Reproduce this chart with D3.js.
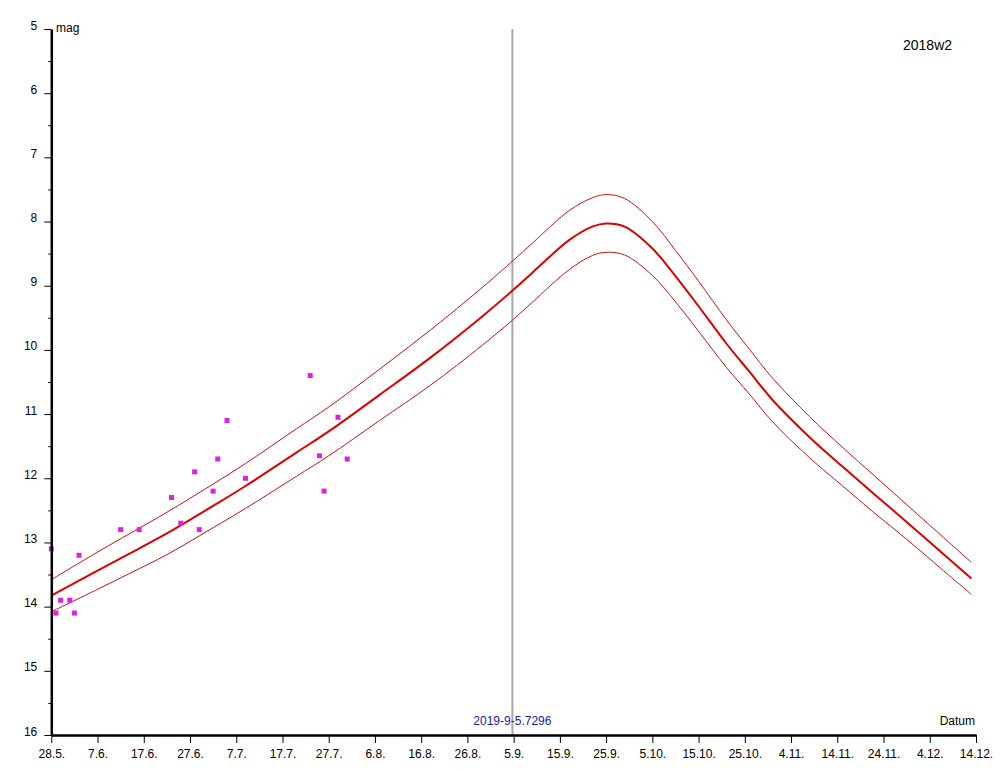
<!DOCTYPE html>
<html>
<head>
<meta charset="utf-8">
<script src="https://cdn.jsdelivr.net/npm/d3@7"></script>
<style>
  body { margin: 0; background: #fff; }
  text { font-family: "Liberation Sans", Arial, sans-serif; }
</style>
</head>
<body>
<script>
// light curve of comet 2018w2
const curveDates = [
  "2019-05-28", "2019-06-07", "2019-06-14", "2019-06-22", "2019-07-02",
  "2019-07-09", "2019-07-20", "2019-07-27", "2019-08-07", "2019-08-18",
  "2019-08-29", "2019-09-05", "2019-09-09", "2019-09-17", "2019-09-22",
  "2019-09-25", "2019-09-29", "2019-10-05", "2019-10-10", "2019-10-15",
  "2019-10-21", "2019-10-26", "2019-10-31", "2019-11-08", "2019-11-15",
  "2019-11-22", "2019-11-29", "2019-12-06", "2019-12-13",
];
const curveMag = [
  13.83, 13.44, 13.17, 12.86, 12.43, 12.12, 11.60, 11.27, 10.70, 10.12,
  9.49, 9.06, 8.80, 8.29, 8.08, 8.03, 8.08, 8.42, 8.85, 9.32,
  9.90, 10.34, 10.78, 11.36, 11.81, 12.25, 12.68, 13.12, 13.56,
];
const curveUpper = [
  13.58, 13.15, 12.86, 12.53, 12.09, 11.77, 11.23, 10.89, 10.30, 9.69,
  9.04, 8.60, 8.34, 7.83, 7.63, 7.58, 7.64, 8.00, 8.45, 8.93,
  9.53, 9.99, 10.44, 11.04, 11.51, 11.96, 12.41, 12.86, 13.31,
];
const curveLower = [
  14.08, 13.73, 13.48, 13.19, 12.77, 12.47, 11.97, 11.65, 11.10, 10.55,
  9.94, 9.52, 9.26, 8.75, 8.53, 8.48, 8.52, 8.84, 9.25, 9.71,
  10.27, 10.69, 11.12, 11.68, 12.11, 12.54, 12.95, 13.38, 13.81,
];

// observations (magenta squares)
const obsDates = [
  "2019-05-28", "2019-05-29", "2019-05-30", "2019-06-01", "2019-06-02",
  "2019-06-03", "2019-06-12", "2019-06-16", "2019-06-23", "2019-06-25",
  "2019-06-28", "2019-06-29", "2019-07-02", "2019-07-03", "2019-07-05",
  "2019-07-09", "2019-07-23", "2019-07-25", "2019-07-26", "2019-07-29",
  "2019-07-31",
];
const obsMag = [
  13.1, 14.1, 13.9, 13.9, 14.1, 13.2, 12.8, 12.8, 12.3, 12.7,
  11.9, 12.8, 12.2, 11.7, 11.1, 12.0, 10.4, 11.65, 12.2, 11.05,
  11.7,
];

const xTickDates = [
  "2019-05-28", "2019-06-07", "2019-06-17", "2019-06-27", "2019-07-07",
  "2019-07-17", "2019-07-27", "2019-08-06", "2019-08-16", "2019-08-26",
  "2019-09-05", "2019-09-15", "2019-09-25", "2019-10-05", "2019-10-15",
  "2019-10-25", "2019-11-04", "2019-11-14", "2019-11-24", "2019-12-04",
  "2019-12-14",
];
const yTicks = [5, 6, 7, 8, 9, 10, 11, 12, 13, 14, 15, 16];
const yMinorTicks = [5.5, 6.5, 7.5, 8.5, 9.5, 10.5, 11.5, 12.5, 13.5, 14.5, 15.5];

const markerDate = "2019-09-04T17:30:00Z";
const markerLabel = "2019-9-5.7296";
const cometName = "2018w2";

const width = 1000;
const height = 771;
const axisLeftX = 51.3;
const axisRightX = 976;
const axisTopY = 29;
const axisBottomY = 735;

const parse = (s) => new Date(s.length === 10 ? s + "T00:00:00Z" : s);

const svg = d3.select("body")
  .append("svg")
  .attr("width", width)
  .attr("height", height);

const x = d3.scaleUtc()
  .domain([parse("2019-05-28"), parse("2019-12-14")])
  .range([axisLeftX, axisRightX]);

const y = d3.scaleLinear()
  .domain([5, 16])
  .range([axisTopY, axisBottomY]);

// vertical marker line
svg.append("line")
  .attr("x1", x(parse(markerDate)))
  .attr("x2", x(parse(markerDate)))
  .attr("y1", y(5))
  .attr("y2", y(16))
  .style("stroke", "#a8a8a8")
  .style("stroke-width", 2);

svg.append("text")
  .attr("x", x(parse(markerDate)))
  .attr("y", 725)
  .attr("text-anchor", "middle")
  .style("font-size", "12px")
  .style("fill", "#2020b0")
  .text(markerLabel);

// curves
const makeLine = (vals) => d3.line()
  .x((d, i) => x(parse(curveDates[i])))
  .y((d) => y(d))
  .curve(d3.curveCatmullRom.alpha(0.5))(vals);

svg.append("path")
  .attr("d", makeLine(curveUpper))
  .style("fill", "none")
  .style("stroke", "#cc1010")
  .style("stroke-width", 1);

svg.append("path")
  .attr("d", makeLine(curveLower))
  .style("fill", "none")
  .style("stroke", "#cc1010")
  .style("stroke-width", 1);

svg.append("path")
  .attr("d", makeLine(curveMag))
  .style("fill", "none")
  .style("stroke", "#dd0000")
  .style("stroke-width", 2);

// observations
svg.selectAll("rect.obs")
  .data(obsMag)
  .enter()
  .append("rect")
  .attr("class", "obs")
  .attr("x", (d, i) => x(parse(obsDates[i])) - 2.5)
  .attr("y", (d) => y(d) - 2.5)
  .attr("width", 5)
  .attr("height", 5)
  .style("fill", "#e020e0");

// y axis
const yAxis = svg.append("g")
  .attr("transform", `translate(${axisLeftX},0)`)
  .call(d3.axisLeft(y).tickValues(yTicks).tickSize(7).tickSizeOuter(0).tickFormat(d3.format("d")));

yAxis.select(".domain").style("stroke-width", 2.5);
yAxis.selectAll("text")
  .attr("x", -14)
  .attr("dy", "0")
  .style("font-size", "12px")
  .style("fill", "#000");

svg.append("g")
  .attr("transform", `translate(${axisLeftX},0)`)
  .call(d3.axisLeft(y).tickValues(yMinorTicks).tickSize(3).tickSizeOuter(0).tickFormat(""))
  .select(".domain").remove();

svg.append("text")
  .attr("x", 56)
  .attr("y", 32)
  .style("font-size", "12px")
  .text("mag");

// x axis
const xAxis = svg.append("g")
  .attr("transform", `translate(0,${axisBottomY})`)
  .call(d3.axisBottom(x)
    .tickValues(xTickDates.map(parse))
    .tickSize(8)
    .tickSizeOuter(0)
    .tickFormat((d) => `${d.getUTCDate()}.${d.getUTCMonth() + 1}.`));

xAxis.select(".domain").style("stroke-width", 2.5);
xAxis.selectAll("text")
  .attr("y", 23)
  .attr("dy", "0")
  .style("font-size", "12px")
  .style("fill", "#000");

svg.append("text")
  .attr("x", 975)
  .attr("y", 725)
  .attr("text-anchor", "end")
  .style("font-size", "12px")
  .text("Datum");

svg.append("text")
  .attr("x", 903)
  .attr("y", 50)
  .style("font-size", "14px")
  .text(cometName);
</script>
</body>
</html>
